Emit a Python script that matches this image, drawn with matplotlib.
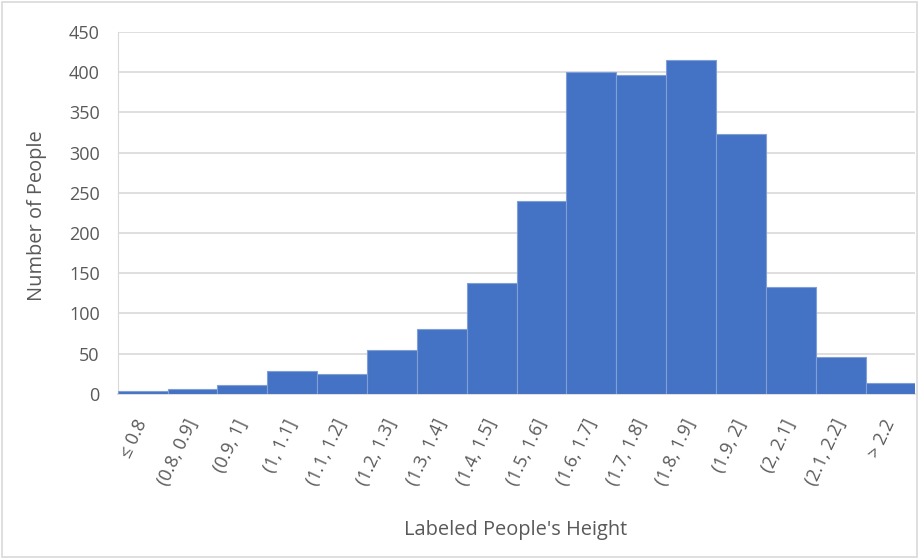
import matplotlib.pyplot as plt
from matplotlib.patches import Rectangle

# Height bins and counts
categories = ["≤ 0.8", "(0.8, 0.9]", "(0.9, 1]", "(1, 1.1]", "(1.1, 1.2]", "(1.2, 1.3]",
              "(1.3, 1.4]", "(1.4, 1.5]", "(1.5, 1.6]", "(1.6, 1.7]", "(1.7, 1.8]",
              "(1.8, 1.9]", "(1.9, 2]", "(2, 2.1]", "(2.1, 2.2]", "> 2.2"]
counts = [4, 6, 11, 28, 25, 54, 81, 138, 240, 400, 396, 415, 323, 133, 46, 13]
y_ticks = [0, 50, 100, 150, 200, 250, 300, 350, 400, 450]

plt.rcParams['font.family'] = ['Open Sans', 'DejaVu Sans']
text_color = '#595959'
grid_color = '#d9d9d9'
tick_size = 13
title_size = 14.4

fig = plt.figure(figsize=(9.2, 5.58), dpi=100)
ax = fig.add_axes([0.128, 0.294, 0.867, 0.649])

x = list(range(len(categories)))
ax.bar(x, counts, width=1.0, color='#4472C4', edgecolor='#7f9fd6', linewidth=0.8, zorder=3)

ax.set_xlim(-0.5, len(categories) - 0.5)
ax.set_ylim(0, 450)
ax.set_yticks(y_ticks)
ax.set_yticklabels([str(v) for v in y_ticks], fontsize=tick_size, color=text_color)
ax.set_xticks(x)
ax.set_xticklabels(categories, rotation=65, ha='right', va='center',
                   rotation_mode='anchor', fontsize=tick_size, color=text_color)
ax.tick_params(axis='x', length=0, pad=19)
ax.tick_params(axis='y', length=0, pad=13)

ax.yaxis.grid(True, color=grid_color, linewidth=1.2, zorder=0)
ax.set_axisbelow(True)
for side in ['top', 'right']:
    ax.spines[side].set_visible(False)
ax.spines['left'].set_color(grid_color)
ax.spines['bottom'].set_color(grid_color)
ax.spines['bottom'].set_linewidth(1.2)

fig.text(0.040, 0.613, "Number of People", fontsize=title_size, color=text_color,
         rotation=90, ha='center', va='center')
fig.text(0.561, 0.05, "Labeled People's Height", fontsize=title_size, color=text_color,
         ha='center', va='center')

# Chart frame
fig.patches.append(Rectangle((0.002, 0.002), 0.995, 0.995, transform=fig.transFigure,
                             fill=False, edgecolor=grid_color, linewidth=1.2))

fig.savefig('out.png', dpi=100)
